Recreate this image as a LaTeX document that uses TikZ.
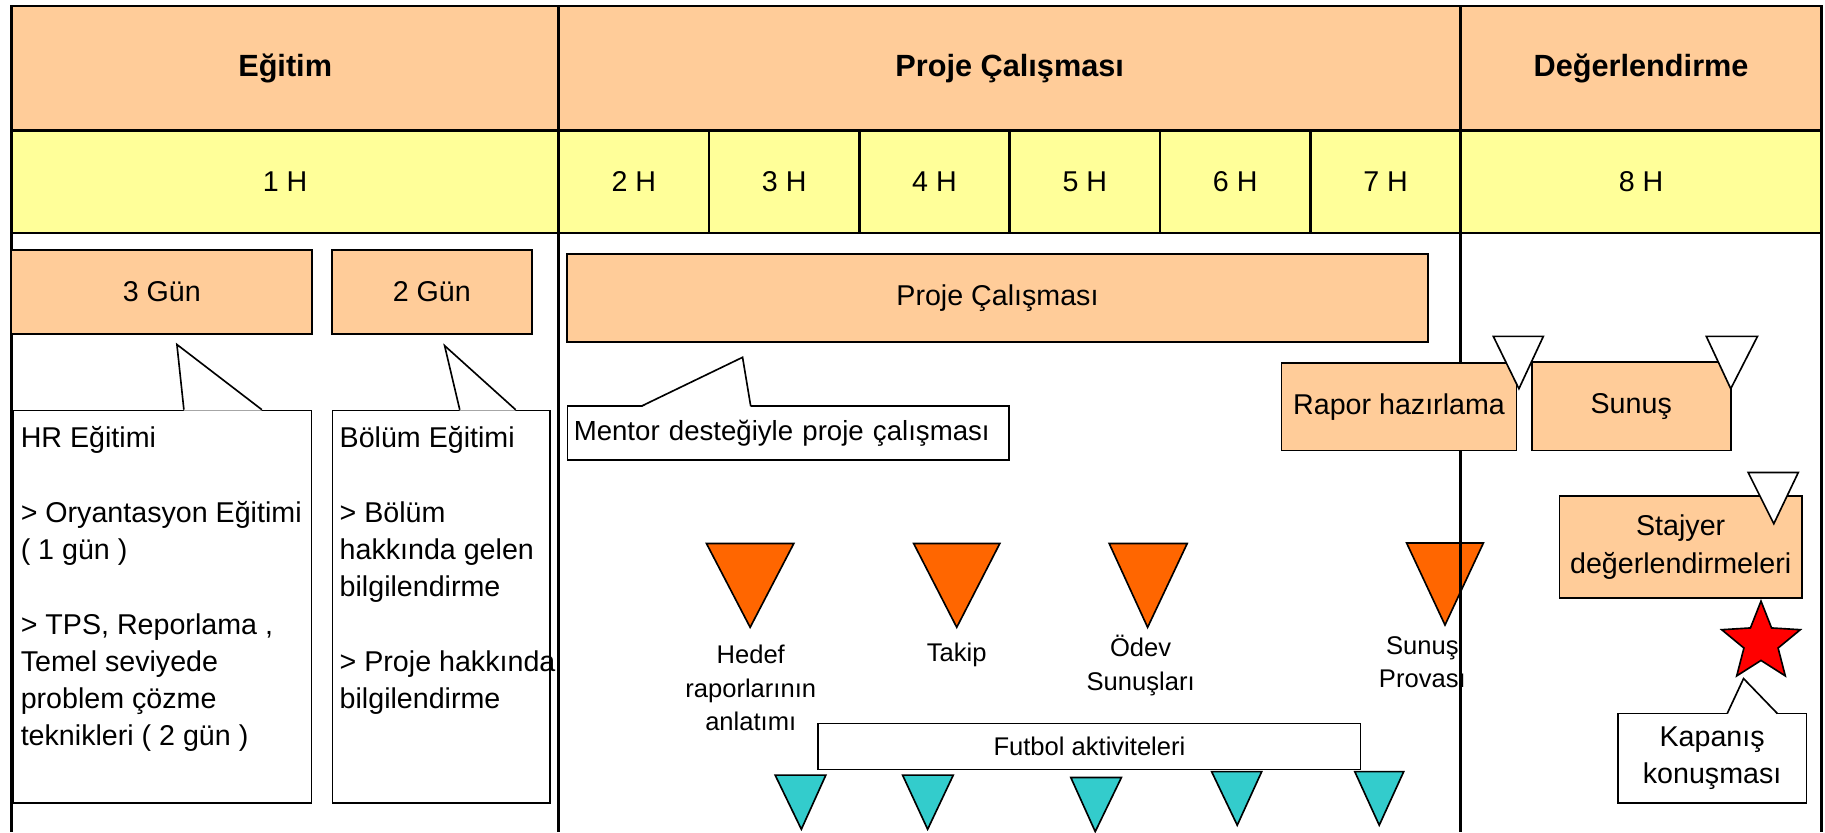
\documentclass[tikz,border=0pt]{standalone}
\usepackage{fontspec}
\setmainfont{Liberation Sans}
\usetikzlibrary{shapes.geometric}
\definecolor{peach}{HTML}{FFCC99}
\definecolor{lightyellow}{HTML}{FFFF99}
\definecolor{flagorange}{HTML}{FF6600}
\definecolor{flagcyan}{HTML}{33CCCC}
\newcommand{\hdrfont}{\fontsize{15}{18}\selectfont\bfseries}
\newcommand{\regfont}{\fontsize{14}{18.2}\selectfont}
\newcommand{\lblfont}{\fontsize{12.5}{16.5}\selectfont}
\tikzset{
  hdrcell/.style={draw, line width=1.2pt, inner sep=0pt, outer sep=0pt},
  phasecell/.style={hdrcell, fill=peach, font=\hdrfont, minimum height=2.14cm},
  weekcell/.style={hdrcell, fill=lightyellow, font=\regfont, minimum height=1.76cm},
  taskbox/.style={draw, line width=0.8pt, fill=peach, font=\regfont, align=center, inner sep=0pt},
  notebox/.style={draw, line width=0.8pt, fill=white, font=\regfont},
  frameline/.style={line width=1.2pt},
  calloutline/.style={line width=0.8pt},
  flagtri/.style={draw, line width=0.8pt},
  flaglabel/.style={font=\lblfont, align=center},
}

\begin{document}
\begin{tikzpicture}
    \useasboundingbox[fill=white] (0,0) rectangle (31.36,-14.3);

    \draw node at (4.9,-1.17)[name=egitim, phasecell, minimum width=9.4cm]{Eğitim};
    \draw node at (17.35,-1.17)[name=proje, phasecell, minimum width=15.5cm]{Proje Çalışması};
    \draw node at (28.2,-1.17)[name=degerlendirme, phasecell, minimum width=6.2cm]{Değerlendirme};
    \draw node at (4.9,-3.12)[name=h1, weekcell, minimum width=9.4cm]{1 H};
    \draw node at (10.892,-3.12)[name=h2, weekcell, minimum width=2.5833cm]{2 H};
    \draw node at (13.475,-3.12)[name=h3, weekcell, minimum width=2.5833cm]{3 H};
    \draw node at (16.058,-3.12)[name=h4, weekcell, minimum width=2.5833cm]{4 H};
    \draw node at (18.642,-3.12)[name=h5, weekcell, minimum width=2.5833cm]{5 H};
    \draw node at (21.225,-3.12)[name=h6, weekcell, minimum width=2.5833cm]{6 H};
    \draw node at (23.808,-3.12)[name=h7, weekcell, minimum width=2.5833cm]{7 H};
    \draw node at (28.2,-3.12)[name=h8, weekcell, minimum width=6.2cm]{8 H};

    \draw[flagtri, fill=flagorange] (12.14,-9.34) -- (13.64,-9.34) -- (12.89,-10.78) -- cycle;
    \draw[flagtri, fill=flagorange] (15.7,-9.34) -- (17.18,-9.34) -- (16.44,-10.78) -- cycle;
    \draw[flagtri, fill=flagorange] (19.06,-9.34) -- (20.4,-9.34) -- (19.72,-10.78) -- cycle;
    \draw[flagtri, fill=flagorange] (24.17,-9.33) -- (25.49,-9.33) -- (24.83,-10.74) -- cycle;

    \coordinate (bottom) at (0,-14.3);
    \draw[frameline] (h1.south west) -- (h1.south west |- bottom);
    \draw[frameline] (h1.south east) -- (h1.south east |- bottom);
    \draw[frameline] (h8.south west) -- (h8.south west |- bottom);
    \draw[frameline] (h8.south east) -- (h8.south east |- bottom);

    \draw node at (2.78,-5.02)[name=gun3, taskbox, minimum width=5.16cm, minimum height=1.44cm]{3 Gün};
    \draw node at (7.42,-5.02)[name=gun2, taskbox, minimum width=3.44cm, minimum height=1.44cm]{2 Gün};
    \draw node at (17.14,-5.12)[name=calisma, taskbox, minimum width=14.8cm, minimum height=1.52cm]{Proje Çalışması};
    \draw node at (24.04,-6.99)[name=rapor, taskbox, minimum width=4.04cm, minimum height=1.5cm]{Rapor hazırlama};
    \draw node at (28.03,-6.98)[name=sunus, taskbox, minimum width=3.42cm, minimum height=1.52cm]{Sunuş};
    \draw node at (28.88,-9.4)[name=stajyer, taskbox, minimum width=4.16cm, minimum height=1.76cm]{Stajyer\\değerlendirmeleri};

    \draw[flagtri, fill=white] (25.66,-5.78) -- (26.52,-5.78) -- (26.1,-6.68) -- cycle;
    \draw[flagtri, fill=white] (29.32,-5.78) -- (30.2,-5.78) -- (29.74,-6.68) -- cycle;
    \draw[flagtri, fill=white] (30.04,-8.12) -- (30.9,-8.12) -- (30.48,-9.0) -- cycle;

    \draw node at (30.26,-11.04)[name=closing, star, star points=5, star point ratio=2.3, minimum size=1.42cm, inner sep=0pt, draw, fill=red, line width=0.8pt]{};

    \draw node at (0.22,-7.04)[name=hr, notebox, anchor=north west, inner xsep=3.5pt, inner ysep=8pt]{\parbox[t][176pt][t]{4.87cm}{\raggedright HR Eğitimi\\[\baselineskip]> Oryantasyon Eğitimi\\( 1 gün )\\[\baselineskip]> TPS, Reporlama ,\\Temel seviyede\\problem çözme\\teknikleri ( 2 gün )}};
    \draw node at (5.7,-7.04)[name=bolum, notebox, anchor=north west, inner xsep=3.5pt, inner ysep=8pt]{\parbox[t][176pt][t]{3.49cm}{\raggedright Bölüm Eğitimi\\[\baselineskip]> Bölüm\\hakkında gelen\\bilgilendirme\\[\baselineskip]\mbox{> Proje hakkında}\\bilgilendirme}};
    \draw node at (9.74,-7.44)[name=mentor, notebox, anchor=west, minimum height=0.92cm, inner xsep=3pt, text width=7.37cm, align=left, font=\fontsize{13.5}{16}\selectfont]{\mbox{Mentor desteğiyle proje çalışması}};
    \draw node at (29.42,-13.03)[name=kapanis, notebox, minimum width=3.24cm, minimum height=1.54cm, align=center, inner sep=0pt]{Kapanış\\konuşması};

    \coordinate (hr-a) at (3.16,-7.04);
    \coordinate (hr-t) at (3.04,-5.92);
    \coordinate (hr-b) at (4.5,-7.04);
    \coordinate (bolum-a) at (7.9,-7.04);
    \coordinate (bolum-t) at (7.64,-5.94);
    \coordinate (bolum-b) at (8.86,-7.04);
    \coordinate (mentor-a) at (11.02,-6.98);
    \coordinate (mentor-t) at (12.76,-6.14);
    \coordinate (mentor-b) at (12.9,-6.98);
    \coordinate (kapanis-a) at (29.68,-12.26);
    \coordinate (kapanis-t) at (29.96,-11.66);
    \coordinate (kapanis-b) at (30.54,-12.26);

    \fill[white] ([yshift=-0.5pt]hr-a) -- (hr-t) -- ([yshift=-0.5pt]hr-b) -- cycle;
    \draw[calloutline] (hr-a) -- (hr-t) -- (hr-b);
    \fill[white] ([yshift=-0.5pt]bolum-a) -- (bolum-t) -- ([yshift=-0.5pt]bolum-b) -- cycle;
    \draw[calloutline] (bolum-a) -- (bolum-t) -- (bolum-b);
    \fill[white] ([yshift=-0.5pt]mentor-a) -- (mentor-t) -- ([yshift=-0.5pt]mentor-b) -- cycle;
    \draw[calloutline] (mentor-a) -- (mentor-t) -- (mentor-b);
    \fill[white] ([yshift=-0.5pt]kapanis-a) -- (kapanis-t) -- ([yshift=-0.5pt]kapanis-b) -- cycle;
    \draw[calloutline] (kapanis-a) -- (kapanis-t) -- (kapanis-b);

    \draw node at (12.9,-11.82)[name=hedef, flaglabel]{Hedef\\raporlarının\\anlatımı};
    \draw node at (16.44,-11.26)[name=takip, flaglabel]{Takip};
    \draw node at (19.6,-11.44)[name=odev, flaglabel]{Ödev\\Sunuşları};
    \draw node at (24.44,-11.38)[name=prova, flaglabel]{Sunuş\\Provası};
    \draw node at (18.72,-12.825)[name=futbol, notebox, font=\lblfont, minimum width=9.32cm, minimum height=0.79cm, inner sep=0pt]{Futbol aktiviteleri};

    \begin{scope}[flagtri, fill=flagcyan]
      \draw[fill=flagcyan] (13.32,-13.32) -- (14.19,-13.32) -- (13.77,-14.25) -- cycle;
      \draw[fill=flagcyan] (15.51,-13.32) -- (16.38,-13.32) -- (15.94,-14.25) -- cycle;
      \draw[fill=flagcyan] (18.4,-13.36) -- (19.27,-13.36) -- (18.82,-14.29) -- cycle;
      \draw[fill=flagcyan] (20.82,-13.26) -- (21.68,-13.26) -- (21.26,-14.18) -- cycle;
      \draw[fill=flagcyan] (23.28,-13.26) -- (24.12,-13.26) -- (23.7,-14.18) -- cycle;
    \end{scope}
\end{tikzpicture}
\end{document}
